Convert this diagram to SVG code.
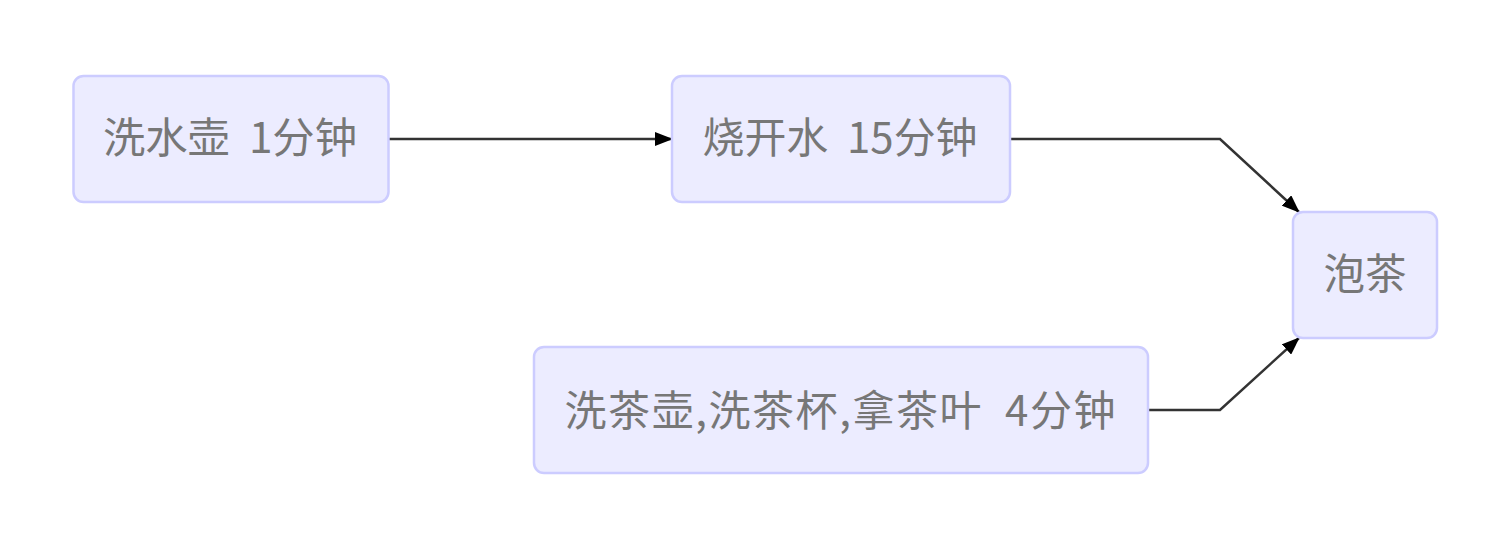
<svg xmlns="http://www.w3.org/2000/svg" width="1492" height="552" viewBox="0 0 1492 552">
  <style>
    .node rect { fill: #ECECFF; stroke: #CCCCFF; stroke-width: 2.5; }
    .node text { font-family: "Noto Sans CJK SC", "Noto Sans", sans-serif; font-size: 42px; fill: #777777; text-anchor: middle; white-space: pre; }
    .edge { fill: none; stroke: #333333; stroke-width: 2.5; marker-end: url(#arrow); }
  </style>
  <defs>
    <marker id="arrow" markerUnits="userSpaceOnUse" viewBox="0 0 18 14" refX="17" refY="7" markerWidth="18" markerHeight="14" orient="auto">
      <path d="M0,0 L18,7 L0,14 z" fill="#000000"/>
    </marker>
  </defs>
  <rect width="1492" height="552" fill="#FFFFFF"/>
  <g id="connectors">
    <path class="edge" d="M389,139 L672,139"/>
    <path class="edge" d="M1010,139 L1220,139 L1299,212"/>
    <path class="edge" d="M1148,410 L1220,410 L1299,338"/>
  </g>
  <g id="node-wash-kettle" class="node">
    <rect x="73.5" y="76" width="315" height="126" rx="10" ry="10"/>
    <text x="230" y="153" textLength="254" lengthAdjust="spacingAndGlyphs" xml:space="preserve">洗水壶  1分钟</text>
  </g>
  <g id="node-boil-water" class="node">
    <rect x="672" y="76" width="338" height="126" rx="10" ry="10"/>
    <text x="840" y="153" textLength="275" lengthAdjust="spacingAndGlyphs" xml:space="preserve">烧开水  15分钟</text>
  </g>
  <g id="node-make-tea" class="node">
    <rect x="1293" y="212" width="144" height="126" rx="10" ry="10"/>
    <text x="1365" y="289" textLength="83" lengthAdjust="spacingAndGlyphs">泡茶</text>
  </g>
  <g id="node-prepare" class="node">
    <rect x="534" y="347" width="614" height="126" rx="10" ry="10"/>
    <text x="840" y="426" textLength="551" lengthAdjust="spacing" xml:space="preserve">洗茶壶,洗茶杯,拿茶叶  4分钟</text>
  </g>
</svg>
